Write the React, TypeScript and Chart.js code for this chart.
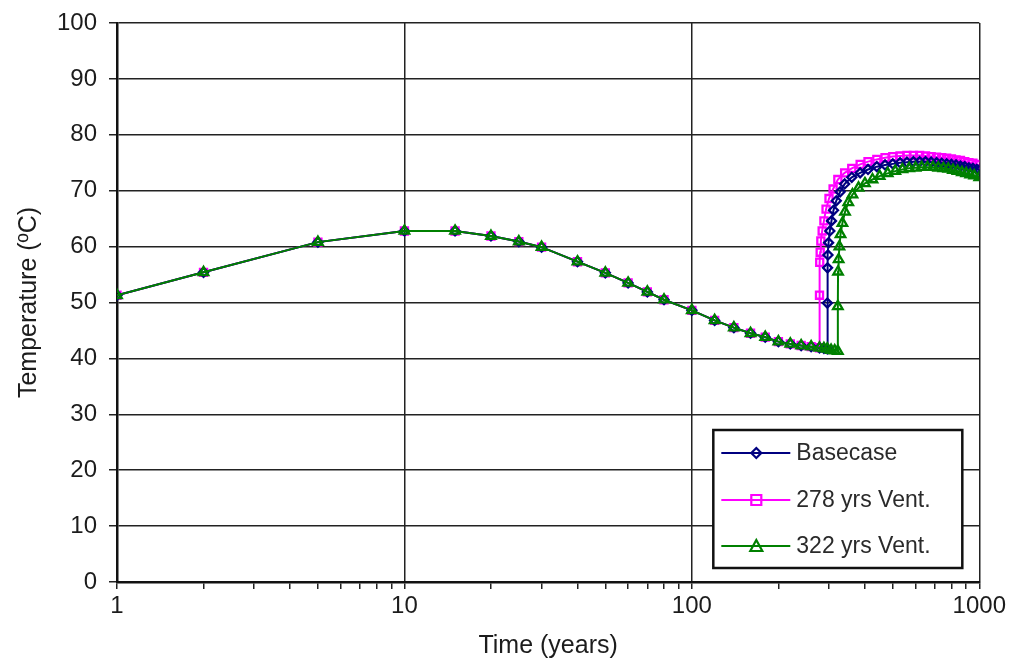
import React, { useEffect, useRef } from "react";
import { Chart, registerables } from "chart.js";

Chart.register(...registerables);

// Shared early history (all three cases coincide)
const earlyYears = [1, 2, 5, 10, 15, 20, 25, 30, 40, 50, 60, 70, 80, 100, 120, 140, 160, 180, 200, 220, 240, 260, 278];
const earlyTemps = [51.3, 55.4, 60.8, 62.8, 62.8, 61.9, 60.9, 59.9, 57.3, 55.3, 53.5, 51.9, 50.5, 48.6, 46.8, 45.5, 44.5, 43.8, 43.0, 42.6, 42.3, 42.1, 41.9];

// Basecase after 278 yrs
const baseYears = [288, 296, 296, 296.5, 297.5, 299, 302, 306, 311, 318, 328, 340, 360, 385, 410, 440, 470, 500, 530, 560, 590, 620, 650, 680, 710, 740, 770, 800, 830, 860, 890, 920, 950, 980, 1000];
const baseTemps = [41.8, 41.7, 49.9, 56.2, 58.5, 60.7, 62.8, 64.6, 66.5, 68.2, 69.8, 71.2, 72.4, 73.2, 73.8, 74.3, 74.6, 74.8, 75.0, 75.1, 75.2, 75.2, 75.2, 75.1, 75.0, 74.9, 74.8, 74.7, 74.6, 74.4, 74.3, 74.1, 74.0, 73.8, 73.7];

// 278 yrs ventilation
const vent278Years = [278, 278.5, 279.5, 281, 284, 288, 293, 300, 310, 322, 340, 360, 385, 410, 440, 470, 500, 530, 560, 590, 620, 650, 680, 710, 740, 770, 800, 830, 860, 890, 920, 950, 980, 1000];
const vent278Temps = [51.3, 57.2, 59.0, 61.0, 62.8, 64.6, 66.7, 68.6, 70.3, 72.0, 73.2, 74.0, 74.7, 75.2, 75.6, 75.9, 76.1, 76.2, 76.3, 76.3, 76.3, 76.2, 76.1, 76.0, 75.9, 75.8, 75.7, 75.5, 75.4, 75.2, 75.0, 74.9, 74.7, 74.6];

// 322 yrs ventilation
const vent322Years = [288, 296, 305, 314, 322, 322, 322.5, 324, 326, 329, 334, 341, 350, 362, 380, 400, 425, 450, 480, 510, 540, 570, 600, 630, 660, 690, 720, 750, 780, 810, 840, 870, 900, 930, 960, 1000];
const vent322Temps = [41.8, 41.7, 41.5, 41.4, 41.3, 49.3, 55.5, 57.7, 60.0, 62.2, 64.2, 66.2, 67.9, 69.3, 70.5, 71.3, 72.0, 72.6, 73.1, 73.5, 73.8, 74.0, 74.1, 74.2, 74.2, 74.2, 74.1, 74.0, 73.9, 73.7, 73.5, 73.3, 73.1, 72.9, 72.7, 72.4];

const seriesNames = ["Basecase", "278 yrs Vent.", "322 yrs Vent."];
const seriesColors = ["#000080", "#ff00ff", "#008000"];
const seriesMarkers = ["rectRot", "rect", "triangle"];

const xTickValues = [1, 2, 3, 4, 5, 6, 7, 8, 9, 10, 20, 30, 40, 50, 60, 70, 80, 90, 100, 200, 300, 400, 500, 600, 700, 800, 900, 1000];
const xLabelValues = [1, 10, 100, 1000];
const yMin = 0;
const yMax = 100;
const yStep = 10;

const FONT = "'Liberation Sans', Arial, sans-serif";
const TEXT = "#1c1c1c";

function zip(xs: number[], ys: number[]) {
  return xs.map((x, i) => ({ x, y: ys[i] }));
}

function drawMarker(ctx: CanvasRenderingContext2D, kind: string, x: number, y: number, color: string) {
  ctx.save();
  ctx.strokeStyle = color;
  ctx.lineWidth = 2.2;
  ctx.beginPath();
  if (kind === "rect") {
    ctx.rect(x - 5, y - 5, 10, 10);
  } else if (kind === "rectRot") {
    ctx.moveTo(x, y - 5);
    ctx.lineTo(x + 5, y);
    ctx.lineTo(x, y + 5);
    ctx.lineTo(x - 5, y);
    ctx.closePath();
  } else {
    ctx.moveTo(x, y - 6);
    ctx.lineTo(x + 6, y + 5);
    ctx.lineTo(x - 6, y + 5);
    ctx.closePath();
  }
  ctx.stroke();
  ctx.restore();
}

const boxLegend = {
  id: "boxLegend",
  afterDraw(chart: any) {
    const { ctx, chartArea } = chart;
    const w = 249;
    const h = 138;
    const x0 = chartArea.right - 17 - w;
    const y0 = chartArea.bottom - 14 - h;
    ctx.save();
    ctx.fillStyle = "#ffffff";
    ctx.fillRect(x0, y0, w, h);
    ctx.strokeStyle = "#111";
    ctx.lineWidth = 2.5;
    ctx.strokeRect(x0, y0, w, h);
    const rows = [y0 + 23, y0 + 70, y0 + 116];
    seriesNames.forEach((name, i) => {
      const ry = rows[i];
      ctx.strokeStyle = seriesColors[i];
      ctx.lineWidth = 2;
      ctx.beginPath();
      ctx.moveTo(x0 + 8, ry);
      ctx.lineTo(x0 + 77, ry);
      ctx.stroke();
      drawMarker(ctx, seriesMarkers[i], x0 + 43, ry, seriesColors[i]);
      ctx.fillStyle = "#2a2a2a";
      ctx.font = `23px ${FONT}`;
      ctx.textBaseline = "middle";
      ctx.textAlign = "left";
      ctx.fillText(name, x0 + 83, ry + 1);
    });
    ctx.restore();
  },
};

export default function App() {
  const canvasRef = useRef<HTMLCanvasElement | null>(null);

  useEffect(() => {
    const canvas = canvasRef.current;
    if (!canvas) return;
    const data = [
      zip(earlyYears, earlyTemps).concat(zip(baseYears, baseTemps)),
      zip(earlyYears, earlyTemps).concat(zip(vent278Years, vent278Temps)),
      zip(earlyYears, earlyTemps).concat(zip(vent322Years, vent322Temps)),
    ];
    const orders = [2, 3, 1];
    const radii = [4.5, 5, 5.5];
    const chart = new Chart(canvas, {
      type: "line",
      data: {
        datasets: seriesNames.map((name, i) => ({
          label: name,
          data: data[i],
          borderColor: seriesColors[i],
          backgroundColor: "rgba(0,0,0,0)",
          borderWidth: 2,
          pointStyle: seriesMarkers[i] as any,
          pointRadius: radii[i],
          pointBorderWidth: 2.3,
          pointBorderColor: seriesColors[i],
          pointBackgroundColor: "rgba(0,0,0,0)",
          tension: 0,
          order: orders[i],
        })),
      },
      options: {
        animation: false,
        responsive: false,
        maintainAspectRatio: false,
        layout: { padding: { top: 23, right: 29, left: 14, bottom: 8 } },
        plugins: {
          legend: { display: false },
          tooltip: { enabled: false },
        },
        scales: {
          x: {
            type: "logarithmic",
            min: 1,
            max: 1000,
            afterBuildTicks: (scale: any) => {
              scale.ticks = xTickValues.map((v) => ({ value: v, major: xLabelValues.includes(v) }));
            },
            afterFit: (scale: any) => {
              scale.height = 79;
            },
            ticks: {
              autoSkip: false,
              maxRotation: 0,
              color: TEXT,
              font: { family: FONT, size: 24 },
              padding: 3,
              callback: (v: any) => (xLabelValues.includes(Number(v)) ? String(v) : ""),
            },
            grid: {
              color: (c: any) => (c.tick && xLabelValues.includes(c.tick.value) ? "#222" : "rgba(0,0,0,0)"),
              tickColor: "#222",
              lineWidth: 1.5,
              tickLength: 7,
              drawTicks: true,
            },
            border: { display: true, color: "#111", width: 2.5 },
            title: {
              display: true,
              text: "Time (years)",
              color: TEXT,
              font: { family: FONT, size: 25 },
              padding: { top: 4, bottom: 0 },
            },
          },
          y: {
            min: yMin,
            max: yMax,
            afterFit: (scale: any) => {
              scale.width = 103;
              scale.paddingTop = 0;
              scale.paddingBottom = 0;
            },
            ticks: {
              stepSize: yStep,
              color: TEXT,
              font: { family: FONT, size: 24 },
              padding: 12,
            },
            grid: {
              color: "#222",
              tickColor: "#222",
              lineWidth: 1.5,
              tickLength: 8,
            },
            border: { display: true, color: "#111", width: 2.5 },
            title: {
              display: true,
              text: "Temperature (ºC)",
              color: TEXT,
              font: { family: FONT, size: 25 },
              padding: { top: 0, bottom: 4 },
            },
          },
        },
      },
      plugins: [boxLegend],
    });
    return () => chart.destroy();
  }, []);

  return (
    <div style={{ position: "absolute", left: 0, top: 0, width: 1009, height: 669, background: "#fff" }}>
      <canvas ref={canvasRef} width={1009} height={669} style={{ width: 1009, height: 669, display: "block" }} />
    </div>
  );
}
